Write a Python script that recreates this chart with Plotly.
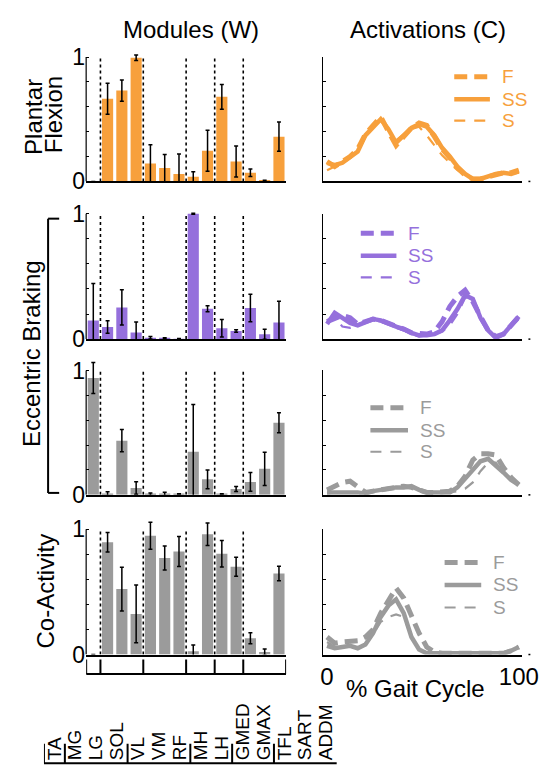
import plotly.graph_objects as go

W, H = 549, 780
FONT = "Liberation Sans, Arial, sans-serif"


def fx(p):
    return p / W


def fy(p):
    return 1 - p / H


# ---------------- data ----------------
muscles = ["TA", "MG", "LG", "SOL", "VL", "VM", "RF", "MH", "LH",
           "GMED", "GMAX", "TFL", "SART", "ADDM"]
group_bounds = [0.5, 3.5, 6.5, 8.5, 10.5]
conditions = ["F", "SS", "S"]

# module weights (mean) and error (sd)
pf_w = [0.0, 0.665, 0.73, 0.995, 0.144, 0.107, 0.06, 0.037, 0.246, 0.68, 0.16, 0.07, 0.004, 0.36]
pf_sd = [0.0, 0.125, 0.085, 0.022, 0.15, 0.11, 0.16, 0.04, 0.165, 0.10, 0.125, 0.03, 0.005, 0.118]
eb1_w = [0.149, 0.097, 0.253, 0.052, 0.01, 0.005, 0.002, 1.0, 0.243, 0.086, 0.065, 0.248, 0.039, 0.133]
eb1_sd = [0.295, 0.05, 0.14, 0.085, 0.01, 0.005, 0.002, 0.003, 0.024, 0.07, 0.01, 0.11, 0.04, 0.17]
eb2_w = [0.94, 0.005, 0.436, 0.055, 0.005, 0.007, 0.003, 0.347, 0.125, 0.004, 0.047, 0.104, 0.209, 0.58]
eb2_sd = [0.125, 0.02, 0.09, 0.05, 0.01, 0.015, 0.005, 0.38, 0.075, 0.005, 0.02, 0.075, 0.133, 0.08]
ca_w = [0.0, 0.896, 0.522, 0.324, 0.948, 0.77, 0.822, 0.026, 0.96, 0.804, 0.70, 0.13, 0.02, 0.646]
ca_sd = [0.0, 0.078, 0.174, 0.23, 0.108, 0.095, 0.12, 0.05, 0.09, 0.105, 0.076, 0.044, 0.025, 0.058]

# activation curves (% gait cycle)
gait = [0, 4, 8, 12, 16, 20, 24, 28, 32, 36, 40, 44, 48, 52, 56, 60, 64, 68, 72, 76, 80, 84, 88, 92, 96, 100]

pf_F = [0.16, 0.12, 0.16, 0.20, 0.26, 0.38, 0.45, 0.52, 0.40, 0.29, 0.36, 0.43, 0.47, 0.45, 0.36, 0.26, 0.19, 0.11, 0.05, 0.02, 0.02, 0.04, 0.06, 0.07, 0.07, 0.09]
pf_SS = [0.15, 0.13, 0.15, 0.19, 0.24, 0.37, 0.43, 0.50, 0.42, 0.31, 0.37, 0.43, 0.46, 0.44, 0.37, 0.27, 0.20, 0.12, 0.06, 0.02, 0.02, 0.04, 0.06, 0.07, 0.06, 0.08]
pf_S = [0.09, 0.12, 0.16, 0.20, 0.27, 0.37, 0.44, 0.49, 0.41, 0.33, 0.38, 0.42, 0.44, 0.37, 0.29, 0.21, 0.15, 0.09, 0.05, 0.02, 0.02, 0.04, 0.06, 0.06, 0.06, 0.07]

eb1_F = [0.14, 0.17, 0.19, 0.17, 0.12, 0.14, 0.16, 0.15, 0.13, 0.11, 0.08, 0.05, 0.04, 0.04, 0.06, 0.14, 0.26, 0.34, 0.39, 0.30, 0.18, 0.07, 0.02, 0.04, 0.11, 0.18]
eb1_SS = [0.12, 0.21, 0.17, 0.13, 0.11, 0.14, 0.16, 0.15, 0.12, 0.10, 0.08, 0.05, 0.03, 0.03, 0.04, 0.07, 0.15, 0.24, 0.35, 0.32, 0.17, 0.07, 0.01, 0.04, 0.11, 0.18]
eb1_S = [0.13, 0.18, 0.10, 0.09, 0.12, 0.14, 0.15, 0.14, 0.12, 0.09, 0.07, 0.04, 0.02, 0.03, 0.04, 0.06, 0.11, 0.20, 0.33, 0.33, 0.19, 0.08, 0.02, 0.04, 0.10, 0.16]

eb2_F = [0.04, 0.07, 0.10, 0.11, 0.06, 0.02, 0.03, 0.04, 0.05, 0.06, 0.07, 0.06, 0.04, 0.02, 0.02, 0.02, 0.03, 0.07, 0.15, 0.28, 0.33, 0.33, 0.32, 0.22, 0.14, 0.08]
eb2_SS = [0.02, 0.02, 0.02, 0.02, 0.02, 0.01, 0.03, 0.04, 0.05, 0.06, 0.06, 0.07, 0.04, 0.02, 0.02, 0.02, 0.02, 0.06, 0.13, 0.21, 0.27, 0.29, 0.24, 0.18, 0.12, 0.08]
eb2_S = [0.01, 0.02, 0.02, 0.02, 0.02, 0.01, 0.03, 0.04, 0.05, 0.06, 0.06, 0.06, 0.04, 0.02, 0.02, 0.02, 0.02, 0.03, 0.05, 0.10, 0.19, 0.26, 0.26, 0.18, 0.12, 0.08]

ca_F = [0.14, 0.09, 0.10, 0.11, 0.11, 0.14, 0.20, 0.33, 0.43, 0.53, 0.45, 0.30, 0.17, 0.06, 0.02, 0.01, 0.01, 0.01, 0.01, 0.01, 0.01, 0.01, 0.01, 0.01, 0.03, 0.06]
ca_SS = [0.07, 0.05, 0.06, 0.07, 0.05, 0.08, 0.17, 0.30, 0.39, 0.44, 0.33, 0.14, 0.04, 0.01, 0.01, 0.01, 0.01, 0.01, 0.01, 0.01, 0.01, 0.01, 0.01, 0.01, 0.03, 0.06]
ca_S = [0.10, 0.06, 0.06, 0.07, 0.05, 0.08, 0.16, 0.26, 0.30, 0.32, 0.30, 0.14, 0.04, 0.01, 0.01, 0.01, 0.01, 0.01, 0.01, 0.01, 0.01, 0.01, 0.01, 0.01, 0.03, 0.06]

ORANGE = "#F7A03C"
PURPLE = "#9570DC"
GRAY = "#9B9B9B"

STYLE = {
    "F": dict(width=5, dash="13px,7px"),
    "SS": dict(width=4.5, dash="solid"),
    "S": dict(width=2.2, dash="11px,9px"),
}

# legend placement: (sample x0, sample x1, text x, [row y for F, SS, S])
rows = [
    dict(w=pf_w, sd=pf_sd, F=pf_F, SS=pf_SS, S=pf_S, color=ORANGE, y0=174, y1=47,
         leg=(460, 497, 507, [67, 90, 112])),
    dict(w=eb1_w, sd=eb1_sd, F=eb1_F, SS=eb1_SS, S=eb1_S, color=PURPLE, y0=335, y1=207,
         leg=(363, 400, 410, [227, 250, 272])),
    dict(w=eb2_w, sd=eb2_sd, F=eb2_F, SS=eb2_SS, S=eb2_S, color=GRAY, y0=494, y1=367,
         leg=(373, 412, 422, [405, 428, 450])),
    dict(w=ca_w, sd=ca_sd, F=ca_F, SS=ca_SS, S=ca_S, color=GRAY, y0=657, y1=529,
         leg=(450, 488, 498, [563, 586, 609])),
]

fig = go.Figure()
layout = dict(
    width=W, height=H, margin=dict(l=0, r=0, t=0, b=0),
    paper_bgcolor="white", plot_bgcolor="white",
    font=dict(family=FONT, color="black"),
    bargap=0.22, showlegend=False,
)
shapes = []
annotations = []

YMAX = 1.08
for i, r in enumerate(rows):
    li = i + 1          # left axis index
    ri = i + 5          # right axis index
    lx = "x" if li == 1 else f"x{li}"
    ly = "y" if li == 1 else f"y{li}"
    rx = f"x{ri}"
    ry = f"y{ri}"

    # ---- bars ----
    fig.add_trace(go.Bar(
        x=muscles, y=r["w"], xaxis=lx, yaxis=ly,
        marker=dict(color=r["color"], line=dict(width=0)),
        error_y=dict(type="data", array=r["sd"], color="black", thickness=1.5, width=2),
        cliponaxis=False,
    ))
    # ---- activation lines ----
    for c in conditions:
        fig.add_trace(go.Scatter(
            x=gait, y=r[c], xaxis=rx, yaxis=ry, mode="lines", name=c,
            line=dict(color=r["color"], **STYLE[c]), cliponaxis=False))

    y0, y1 = r["y0"], r["y1"]
    top_left = y0 - YMAX * (y0 - y1)
    layout["xaxis" if li == 1 else f"xaxis{li}"] = dict(
        domain=[fx(78), fx(285.5)], anchor=ly, type="category",
        categoryorder="array", categoryarray=muscles, range=[-0.5, 13.5],
        showticklabels=False, ticks="", showline=True, linecolor="black",
        linewidth=2, showgrid=False, zeroline=False)
    layout["yaxis" if li == 1 else f"yaxis{li}"] = dict(
        domain=[fy(y0), fy(top_left)], anchor=lx, range=[0, YMAX],
        tickvals=[0, 0.2, 0.4, 0.6, 0.8, 1.0], ticktext=["0", "", "", "", "", "1"],
        ticks="inside", ticklen=3, tickcolor="black", tickwidth=1,
        tickfont=dict(size=23, family=FONT), showline=False, showgrid=False,
        zeroline=False)
    # left y axis line only from 0 to 1
    shapes.append(dict(type="line", xref=f"{lx} domain", yref=ly, x0=0, x1=0, y0=0, y1=1,
                       line=dict(color="black", width=1.2)))
    # dotted group separators
    for b in group_bounds:
        shapes.append(dict(type="line", xref=lx, yref=ly, x0=b, x1=b, y0=0, y1=1,
                           line=dict(color="black", width=1.6, dash="dot")))

    last = (i == 3)
    layout[f"xaxis{ri}"] = dict(
        domain=[fx(324), fx(530)], anchor=ry, range=[-2, 101.5],
        showline=True, linecolor="black", linewidth=1.8, ticks="",
        tickvals=[0, 100] if last else [], showticklabels=last,
        tickfont=dict(size=24, family=FONT), showgrid=False, zeroline=False)
    layout[f"yaxis{ri}"] = dict(
        domain=[fy(y0), fy(y1)], anchor=rx, range=[0, 1],
        tickvals=[0, 0.2, 0.4, 0.6, 0.8, 1.0], showticklabels=False,
        ticks="inside", ticklen=3, tickcolor="black", showline=True,
        linecolor="black", linewidth=1.2, showgrid=False, zeroline=False)
    # small end mark on x axis
    shapes.append(dict(type="line", xref="paper", yref="paper", x0=fx(537), x1=fx(539),
                       y0=fy(y0), y1=fy(y0), line=dict(color="black", width=1.5)))

    # ---- legend (drawn) ----
    sx0, sx1, tx, ys = r["leg"]
    for c, yy in zip(conditions, ys):
        shapes.append(dict(type="line", xref="paper", yref="paper",
                           x0=fx(sx0), x1=fx(sx1), y0=fy(yy), y1=fy(yy),
                           line=dict(color=r["color"], **STYLE[c])))
        annotations.append(dict(text=c, x=fx(tx), y=fy(yy), xref="paper", yref="paper",
                                showarrow=False, xanchor="left", yanchor="middle",
                                font=dict(size=19, family=FONT, color=r["color"])))

# ---- bottom label axis (muscle names) ----
fig.add_trace(go.Scatter(x=muscles, y=[0] * len(muscles), xaxis="x9", yaxis="y9",
                         mode="markers", marker=dict(opacity=0), hoverinfo="skip"))
layout["xaxis9"] = dict(
    domain=[fx(34.2), fx(338)], anchor="y9", side="top", type="category",
    categoryorder="array", categoryarray=muscles, range=[-0.5, 13.5],
    tickmode="array", tickvals=muscles, ticktext=muscles,
    tickangle=-90, ticks="", showline=False, showgrid=False, zeroline=False,
    tickfont=dict(size=19, family=FONT))
layout["yaxis9"] = dict(domain=[0, fy(766)], anchor="x9", visible=False, range=[0, 1])

# bracket under the bars (row 4)
bl = fy(677)
bt = fy(662)
shapes.append(dict(type="line", xref="x4", yref="paper", x0=-0.5, x1=13.5, y0=bl, y1=bl,
                   line=dict(color="black", width=2)))
for b in [-0.5] + group_bounds + [13.5]:
    shapes.append(dict(type="line", xref="x4", yref="paper", x0=b, x1=b, y0=bl, y1=bt,
                       line=dict(color="black", width=2)))

# bracket under the muscle names
ml = fy(768)
mt = fy(748)
shapes.append(dict(type="line", xref="x9", yref="paper", x0=-0.5, x1=13.8, y0=ml, y1=ml,
                   line=dict(color="black", width=2)))
for b in [-0.5] + group_bounds + [13.8]:
    shapes.append(dict(type="line", xref="x9", yref="paper", x0=b, x1=b, y0=ml, y1=mt,
                       line=dict(color="black", width=2)))

# Eccentric braking bracket
shapes.append(dict(type="line", xref="paper", yref="paper", x0=fx(38.5), x1=fx(38.5),
                   y0=fy(212), y1=fy(492), line=dict(color="black", width=2)))
for yy in (212, 492):
    shapes.append(dict(type="line", xref="paper", yref="paper", x0=fx(38.5), x1=fx(50),
                       y0=fy(yy), y1=fy(yy), line=dict(color="black", width=2)))


def ann(text, x, y, size, angle=0):
    annotations.append(dict(text=text, x=fx(x), y=fy(y), xref="paper", yref="paper",
                            showarrow=False, textangle=angle, xanchor="center",
                            yanchor="middle", font=dict(size=size, family=FONT, color="black")))


ann("Modules (W)", 187, 19, 24)
ann("Activations (C)", 433, 19, 24)
ann("Plantar", 24, 108, 24, -90)
ann("Flexion", 44, 106, 24, -90)
ann("Eccentric Braking", 22, 350, 24, -90)
ann("Co-Activity", 36, 592, 24, -90)
ann("% Gait Cycle", 420, 692, 24)

layout["shapes"] = shapes
layout["annotations"] = annotations
fig.update_layout(**layout)
fig.write_html("out.html")
